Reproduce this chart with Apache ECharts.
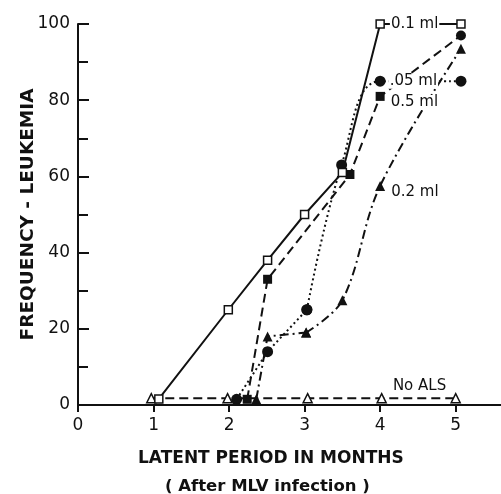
<!DOCTYPE html>
<html>
<head>
<meta charset="utf-8">
<script src="https://cdn.jsdelivr.net/npm/echarts@6/dist/echarts.min.js"></script>
<style>
html, body { margin: 0; padding: 0; background: #fff; }
#main { width: 501px; height: 494px; }
</style>
</head>
<body>
<div id="main"></div>
<script>
// data (months, % leukemia)
var xTicks = [0, 1, 2, 3, 4, 5];
var yTicks = [0, 20, 40, 60, 80, 100];

var ml01X = [1.07, 1.99, 2.51, 3.0, 3.5, 4.0, 5.07];
var ml01Y = [1.6, 25, 38, 50, 61, 100, 100];

var ml05X = [2.24, 2.51, 3.6, 4.0, 5.07];
var ml05Y = [1.5, 33, 60.5, 81, 97];

var ml005X = [2.1, 2.51, 3.03, 3.49, 4.0, 5.07];
var ml005Y = [1.5, 14, 25, 63, 85, 85];

var ml02X = [2.36, 2.51, 3.02, 3.5, 4.0, 5.07];
var ml02Y = [1.5, 18, 19, 27.5, 57.5, 93.5];

var noAlsX = [0.97, 1.98, 3.04, 4.02, 5.0];
var noAlsY = [1.8, 1.8, 1.8, 1.8, 1.8];

var ink = '#111';
var font = 'DejaVu Sans';

// pair x/y arrays (from index a to b), put a text label on one point
function pts(xs, ys, a, b, labelIdx, label) {
	var out = [];
	for (var i = a; i <= b; i++) {
		var d = { value: [xs[i], ys[i]] };
		if (i === labelIdx) d.label = label;
		out.push(d);
	}
	return out;
}

function tag(text, offset, bg) {
	return {
		show: true,
		formatter: text,
		position: 'right',
		distance: 5,
		offset: offset,
		color: ink,
		fontFamily: font,
		fontSize: 15,
		backgroundColor: bg ? '#fff' : 'transparent',
		padding: [0, 1]
	};
}

var ml05Data = pts(ml05X, ml05Y, 0, 4, 3, tag('0.5 ml', [0, 6], true));
// last point of this curve is drawn with a filled circle
ml05Data[4].symbol = 'circle';
ml05Data[4].symbolSize = 10;

var dashDot = { color: ink, width: 2, type: [9, 4, 2, 4] };
var dots = { color: ink, width: 2, type: [2, 3] };

var myChart = echarts.init(document.getElementById('main'));

var option = {
	backgroundColor: '#fff',
	animation: false,
	title: [{
		text: 'LATENT PERIOD IN MONTHS',
		left: 133, top: 445,
		textStyle: { color: ink, fontFamily: font, fontSize: 17, fontWeight: 'bold' }
	}, {
		text: '( After MLV infection )',
		left: 160, top: 473,
		textStyle: { color: ink, fontFamily: font, fontSize: 16.5, fontWeight: 'bold' }
	}],
	grid: { left: 78, right: 0, top: 24, bottom: 89 },
	xAxis: {
		type: 'value',
		min: 0, max: 5.6, interval: 1,
		splitLine: { show: false },
		axisLine: { onZero: false, lineStyle: { color: ink, width: 2 } },
		axisTick: { customValues: xTicks, length: 7, lineStyle: { color: ink, width: 2 } },
		axisLabel: { customValues: xTicks, margin: 12, color: ink, fontFamily: font, fontSize: 17 }
	},
	yAxis: {
		type: 'value',
		min: 0, max: 100, interval: 20,
		name: 'FREQUENCY - LEUKEMIA',
		nameLocation: 'middle',
		nameGap: 40,
		nameMoveOverlap: false,
		nameTextStyle: { color: ink, fontFamily: font, fontSize: 18.5, fontWeight: 'bold' },
		splitLine: { show: false },
		axisLine: { show: true, lineStyle: { color: ink, width: 2 } },
		axisTick: { inside: true, length: 11, lineStyle: { color: ink, width: 2 } },
		minorTick: { show: true, splitNumber: 2, length: 10, lineStyle: { color: ink, width: 2 } },
		axisLabel: {
			margin: 8, color: ink, fontFamily: font, fontSize: 17,
			formatter: function (v) { return yTicks.indexOf(v) >= 0 ? String(v) : ''; }
		}
	},
	series: [{
		name: 'No ALS',
		type: 'line',
		data: pts(noAlsX, noAlsY, 0, 4, 3, tag('No ALS', [0, -12], false)),
		symbol: 'triangle', symbolSize: 9,
		itemStyle: { color: '#fff', borderColor: ink, borderWidth: 1.5 },
		lineStyle: { color: ink, width: 2, type: [9, 5] }
	}, {
		name: '0.2 ml',
		type: 'line',
		data: pts(ml02X, ml02Y, 0, 2, -1),
		symbol: 'triangle', symbolSize: 10,
		itemStyle: { color: ink },
		lineStyle: dashDot
	}, {
		name: '0.2 ml',
		type: 'line',
		data: pts(ml02X, ml02Y, 2, 5, 4, tag('0.2 ml', [0, 6], false)),
		smooth: 0.35,
		symbol: 'triangle', symbolSize: 10,
		itemStyle: { color: ink },
		lineStyle: dashDot
	}, {
		name: '0.05 ml',
		type: 'line',
		data: pts(ml005X, ml005Y, 0, 2, -1),
		symbol: 'circle', symbolSize: 11,
		itemStyle: { color: ink },
		lineStyle: dots
	}, {
		name: '0.05 ml',
		type: 'line',
		data: pts(ml005X, ml005Y, 2, 5, 4, tag('.05 ml', [-2, 0], true)),
		smooth: 0.4,
		symbol: 'circle', symbolSize: 11,
		itemStyle: { color: ink },
		lineStyle: dots
	}, {
		name: '0.5 ml',
		type: 'line',
		data: ml05Data,
		symbol: 'rect', symbolSize: 9,
		itemStyle: { color: ink },
		lineStyle: { color: ink, width: 2, type: [9, 5] }
	}, {
		name: '0.1 ml',
		type: 'line',
		data: pts(ml01X, ml01Y, 0, 6, 5, tag('0.1 ml', [0, 0], true)),
		symbol: 'rect', symbolSize: 8,
		itemStyle: { color: '#fff', borderColor: ink, borderWidth: 1.5 },
		lineStyle: { color: ink, width: 2 }
	}]
};

myChart.setOption(option);
</script>
</body>
</html>
